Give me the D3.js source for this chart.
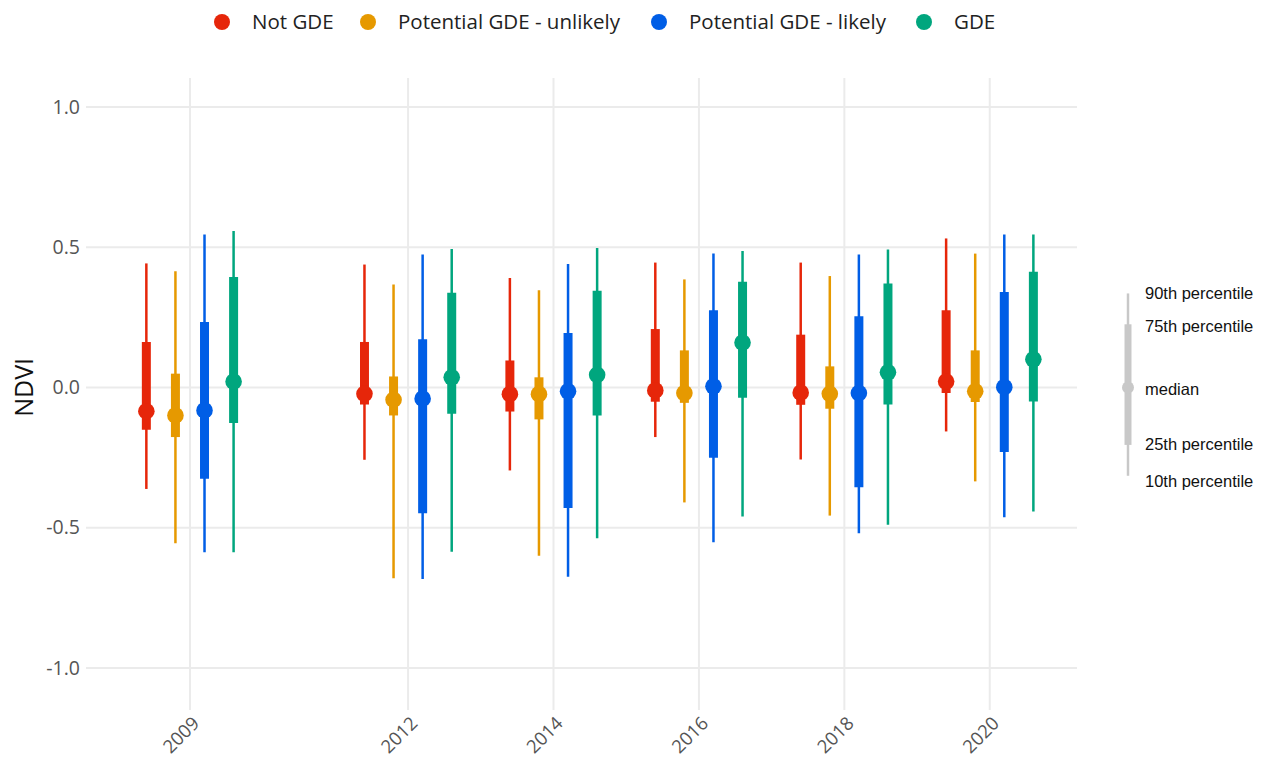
<!DOCTYPE html>
<html>
<head>
<meta charset="utf-8">
<script src="https://cdn.jsdelivr.net/npm/d3@7"></script>
<style>
  body { margin: 0; background: #fff; }
  svg { display: block; }
</style>
</head>
<body>
<svg id="chart" width="1265" height="760"></svg>
<script>
// ---- data ----
const years = [2009, 2012, 2014, 2016, 2018, 2020];
const groups = ["Not GDE", "Potential GDE - unlikely", "Potential GDE - likely", "GDE"];
const colors = ["#e6260a", "#e69900", "#005ee6", "#00a67e"];
const yTicks = [1.0, 0.5, 0.0, -0.5, -1.0];
const legendLabels = ["90th percentile", "75th percentile", "median", "25th percentile", "10th percentile"];

// per group: arrays over years
const p10 = [
  [-0.362, -0.258, -0.296, -0.177, -0.257, -0.157],
  [-0.556, -0.680, -0.600, -0.410, -0.457, -0.335],
  [-0.588, -0.683, -0.675, -0.552, -0.520, -0.463],
  [-0.588, -0.586, -0.538, -0.460, -0.490, -0.442]
];
const p25 = [
  [-0.151, -0.061, -0.086, -0.051, -0.062, -0.020],
  [-0.177, -0.100, -0.114, -0.055, -0.076, -0.052],
  [-0.326, -0.449, -0.430, -0.251, -0.356, -0.230],
  [-0.127, -0.094, -0.100, -0.037, -0.061, -0.050]
];
const p50 = [
  [-0.085, -0.023, -0.024, -0.011, -0.019, 0.021],
  [-0.100, -0.044, -0.024, -0.020, -0.023, -0.014],
  [-0.082, -0.040, -0.014, 0.004, -0.020, 0.001],
  [0.021, 0.036, 0.045, 0.160, 0.054, 0.100]
];
const p75 = [
  [0.162, 0.162, 0.096, 0.208, 0.188, 0.275],
  [0.049, 0.039, 0.036, 0.132, 0.075, 0.132],
  [0.233, 0.172, 0.194, 0.275, 0.254, 0.340],
  [0.394, 0.337, 0.345, 0.377, 0.370, 0.412]
];
const p90 = [
  [0.442, 0.438, 0.390, 0.445, 0.445, 0.531],
  [0.414, 0.367, 0.346, 0.385, 0.397, 0.477],
  [0.545, 0.474, 0.440, 0.477, 0.474, 0.545],
  [0.558, 0.493, 0.497, 0.486, 0.492, 0.545]
];
const legendValues = [0.335, 0.225, 0.0, -0.205, -0.315];

// ---- layout ----
const svg = d3.select("#chart");
const x = d3.scaleLinear().domain([2007.57, 2021.2]).range([86, 1077]);
const y = d3.scaleLinear().domain([1.103, -1.15]).range([78, 710]);
const dodge = d3.scaleBand().domain(groups).range([-0.8, 0.8]);
const offset = g => dodge(g) + dodge.bandwidth() / 2;

const fontMain = "'Open Sans', 'Noto Sans', sans-serif";

// gridlines
svg.append("g").selectAll("line").data(yTicks).join("line")
  .attr("x1", x.range()[0]).attr("x2", x.range()[1])
  .attr("y1", d => y(d)).attr("y2", d => y(d))
  .attr("stroke", "#ebebeb").attr("stroke-width", 2);
svg.append("g").selectAll("line").data(years).join("line")
  .attr("x1", d => x(d)).attr("x2", d => x(d))
  .attr("y1", y.range()[0]).attr("y2", y.range()[1])
  .attr("stroke", "#ebebeb").attr("stroke-width", 2);

// y axis tick labels
const yAxis = d3.axisLeft(y).tickValues(yTicks).tickFormat(d3.format(".1f")).tickSize(0).tickPadding(0);
const yg = svg.append("g").attr("transform", "translate(80,0)").call(yAxis);
yg.select(".domain").remove();
yg.selectAll("text").attr("font-family", fontMain).attr("font-size", 19.5).attr("fill", "#555")
  .text(d => d3.format(".1f")(d).replace("−", "-"));

// x axis tick labels
const xg = svg.append("g");
xg.selectAll("text").data(years).join("text")
  .attr("transform", d => `translate(${x(d) + 6},${720}) rotate(-45)`)
  .attr("text-anchor", "end")
  .attr("dy", "0.35em")
  .attr("font-family", fontMain).attr("font-size", 18.5).attr("fill", "#555")
  .text(d => d);

// y axis title
svg.append("text")
  .attr("transform", `translate(33,${y(0)}) rotate(-90)`)
  .attr("text-anchor", "middle")
  .attr("font-family", fontMain).attr("font-size", 25).attr("fill", "#111")
  .text("NDVI");

// data marks
groups.forEach((g, gi) => {
  const gEl = svg.append("g");
  const rows = years.map((yr, i) => ({
    yr, lo: p10[gi][i], q1: p25[gi][i], med: p50[gi][i], q3: p75[gi][i], hi: p90[gi][i]
  }));
  const cx = d => x(d.yr + offset(g));
  gEl.selectAll("line.wh").data(rows).join("line").attr("class", "wh")
    .attr("x1", cx).attr("x2", cx)
    .attr("y1", d => y(d.lo)).attr("y2", d => y(d.hi))
    .attr("stroke", colors[gi]).attr("stroke-width", 2.5);
  gEl.selectAll("line.bx").data(rows).join("line").attr("class", "bx")
    .attr("x1", cx).attr("x2", cx)
    .attr("y1", d => y(d.q1)).attr("y2", d => y(d.q3))
    .attr("stroke", colors[gi]).attr("stroke-width", 9);
  gEl.selectAll("circle").data(rows).join("circle")
    .attr("cx", cx).attr("cy", d => y(d.med)).attr("r", 8.3)
    .attr("fill", colors[gi]);
});

// top legend
const legendX = [222, 368, 659, 924];
const lg = svg.append("g");
groups.forEach((g, i) => {
  lg.append("circle").attr("cx", legendX[i]).attr("cy", 22).attr("r", 8).attr("fill", colors[i]);
  lg.append("text").attr("x", legendX[i] + 30).attr("y", 22).attr("dy", "0.35em")
    .attr("font-family", fontMain).attr("font-size", 20.5).attr("fill", "#222").text(g);
});

// percentile legend (right)
const lx = 1128;
const lEl = svg.append("g");
lEl.append("line").attr("x1", lx).attr("x2", lx)
  .attr("y1", y(legendValues[0])).attr("y2", y(legendValues[4]))
  .attr("stroke", "#c8c8c8").attr("stroke-width", 2.5);
lEl.append("line").attr("x1", lx).attr("x2", lx)
  .attr("y1", y(legendValues[1])).attr("y2", y(legendValues[3]))
  .attr("stroke", "#c8c8c8").attr("stroke-width", 7);
lEl.append("circle").attr("cx", lx).attr("cy", y(legendValues[2])).attr("r", 6).attr("fill", "#c8c8c8");
const labelY = [293, 326, 389, 444, 481];
lEl.selectAll("text").data(legendLabels).join("text")
  .attr("x", 1145).attr("y", (d, i) => labelY[i]).attr("dy", "0.35em")
  .attr("font-family", "'Liberation Sans', Arial, sans-serif").attr("font-size", 16.5).attr("fill", "#111")
  .text(d => d);
</script>
</body>
</html>
